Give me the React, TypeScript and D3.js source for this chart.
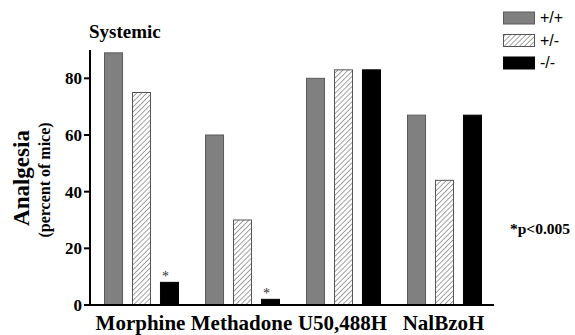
import React from "react";
import * as d3 from "d3";

const categories = ["Morphine", "Methadone", "U50,488H", "NalBzoH"];
const genotypes = ["+/+", "+/-", "-/-"];
const wildType = [89, 60, 80, 67];
const heterozygous = [75, 30, 83, 44];
const knockout = [8, 2, 83, 67];
const yTicks = [0, 20, 40, 60, 80];
const significant = [true, true, false, false];

const W = 575;
const H = 335;

const serif: React.CSSProperties = { fontFamily: "Liberation Serif", fontWeight: 700 };
const serifPlain: React.CSSProperties = { fontFamily: "Liberation Serif", fontWeight: 400 };
const sans: React.CSSProperties = { fontFamily: "Liberation Sans", fontWeight: 400 };

export default function App() {
  const y = d3.scaleLinear().domain([0, 90]).range([305, 50]);
  const x0 = d3.scaleBand<string>().domain(categories).range([90, 494]).padding(0);
  const x1 = d3
    .scaleBand<string>()
    .domain(genotypes)
    .range([14, 89])
    .paddingInner(0.32)
    .paddingOuter(0);
  const series = [wildType, heterozygous, knockout];
  const fills = ["#808080", "url(#hatch)", "#000000"];
  const strokes = ["#5a5a5a", "#555555", "#000000"];

  return (
    <svg width={W} height={H} style={{ position: "absolute", left: 0, top: 0, background: "#fff" }}>
      <defs>
        <pattern id="hatch" patternUnits="userSpaceOnUse" width={3.6} height={3.6} patternTransform="rotate(45)">
          <rect width={3.6} height={3.6} fill="#fff" />
          <line x1={0} y1={0} x2={0} y2={3.6} stroke="#555" strokeWidth={1.1} />
        </pattern>
      </defs>
      <rect width={W} height={H} fill="#fff" />

      {categories.map((c, i) =>
        series.map((s, k) => {
          const bx = (x0(c) as number) + (x1(genotypes[k]) as number);
          const by = y(s[i]);
          return (
            <rect
              key={c + k}
              x={bx + 0.5}
              y={by}
              width={x1.bandwidth() - 1}
              height={y(0) - by}
              fill={fills[k]}
              stroke={strokes[k]}
              strokeWidth={1}
            />
          );
        })
      )}

      {categories.map((c, i) =>
        significant[i] ? (
          <text
            key={"sig" + c}
            x={(x0(c) as number) + (x1("-/-") as number) + x1.bandwidth() / 2 - 4}
            y={y(knockout[i]) - 1.5}
            textAnchor="middle"
            style={{ ...serifPlain, fontSize: 14 }}
            fill="#333"
          >
            *
          </text>
        ) : null
      )}

      <line x1={90} y1={y(90)} x2={90} y2={306} stroke="#000" strokeWidth={2} />
      <line x1={89} y1={305} x2={494} y2={305} stroke="#000" strokeWidth={2} />
      {yTicks.map((t) => (
        <g key={t}>
          <line x1={84} y1={y(t)} x2={90} y2={y(t)} stroke="#000" strokeWidth={2} />
          <text x={82} y={y(t) + 6} textAnchor="end" style={{ ...serif, fontSize: 17 }} fill="#000">
            {t}
          </text>
        </g>
      ))}

      {categories.map((c) => (
        <text
          key={"lbl" + c}
          x={(x0(c) as number) + x0.bandwidth() / 2}
          y={330}
          textAnchor="middle"
          style={{ ...serif, fontSize: 21 }}
          fill="#000"
        >
          {c}
        </text>
      ))}

      <text x={89} y={38} style={{ ...serif, fontSize: 19 }} fill="#000">
        Systemic
      </text>

      <text transform="translate(29,178) rotate(-90)" textAnchor="middle" style={{ ...serif, fontSize: 23 }} fill="#000">
        Analgesia
      </text>
      <text transform="translate(50,180) rotate(-90)" textAnchor="middle" style={{ ...serif, fontSize: 16 }} fill="#000">
        (percent of mice)
      </text>

      {genotypes.map((g, k) => (
        <g key={"leg" + g}>
          <rect
            x={503.5}
            y={12 + k * 22.5}
            width={31}
            height={12}
            fill={fills[k]}
            stroke={strokes[k]}
            strokeWidth={1}
          />
          <text x={540} y={23 + k * 22.5} style={{ ...sans, fontSize: 16 }} fill="#000">
            {g}
          </text>
        </g>
      ))}

      <text x={510} y={234} style={{ ...serif, fontSize: 15.5 }} fill="#000">
        *p&lt;0.005
      </text>
    </svg>
  );
}
